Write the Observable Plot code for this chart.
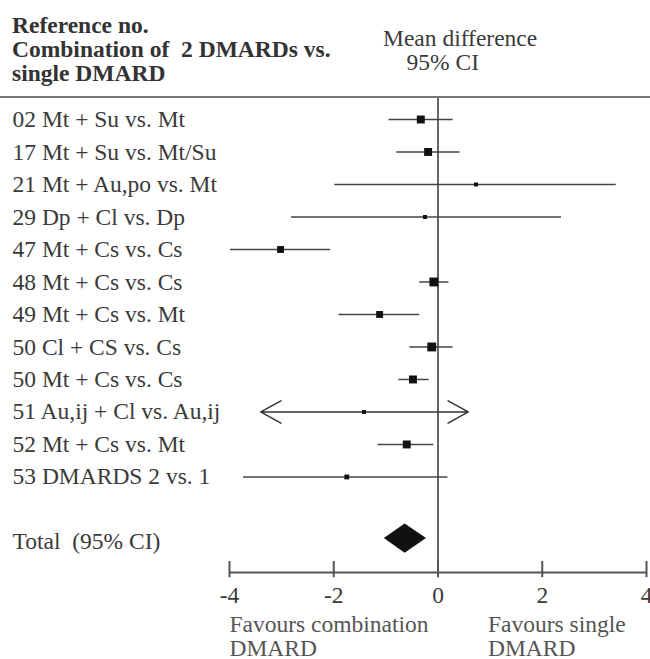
<!DOCTYPE html>
<html><head><meta charset="utf-8">
<script src="https://cdn.jsdelivr.net/npm/d3@7"></script>
<script src="https://cdn.jsdelivr.net/npm/@observablehq/plot@0.6"></script>
<style>
body{margin:0;background:#fff;font-family:"Liberation Serif","Times New Roman",serif;}
#wrap{width:650px;}
#head{position:relative;height:96px;border-bottom:2px solid #777;color:#333}
#h1{position:absolute;left:12px;top:13px;font-weight:bold;font-size:23.5px;line-height:24px;white-space:pre}
#h2{position:absolute;left:383px;top:26px;font-size:23.5px;line-height:24px;white-space:pre;color:#3a3a3a}
#chart svg{display:block}
</style></head><body>
<div id="wrap">
<div id="head"><div id="h1">Reference no.
Combination of  2 DMARDs vs.
single DMARD</div><div id="h2">Mean difference
    95% CI</div></div>
<div id="chart"></div></div>
<script>
const studies = ["02 Mt + Su vs. Mt","17 Mt + Su vs. Mt/Su","21 Mt + Au,po vs. Mt","29 Dp + Cl vs. Dp","47 Mt + Cs vs. Cs","48 Mt + Cs vs. Cs","49 Mt + Cs vs. Mt","50 Cl + CS vs. Cs","50 Mt + Cs vs. Cs","51 Au,ij + Cl vs. Au,ij","52 Mt + Cs vs. Mt","53 DMARDS 2 vs. 1"];
const estimate = [-0.33,-0.19,0.73,-0.25,-3.02,-0.08,-1.12,-0.12,-0.48,-1.42,-0.60,-1.75];
const lower    = [-0.94,-0.79,-1.98,-2.81,-3.98,-0.35,-1.90,-0.54,-0.75,-3.40,-1.15,-3.73];
const upper    = [0.29,0.42,3.42,2.37,-2.06,0.21,-0.35,0.29,-0.17,0.58,-0.08,0.19];
const weight   = [8,8,2,2,6,10,6,10,8,2,8,3];
const truncated = [false,false,false,false,false,false,false,false,false,true,false,false];
const totalLabel = "Total  (95% CI)";
const totalEstimate = -0.64, totalLower = -1.04, totalUpper = -0.23;
const xTicks = [-4,-2,0,2,4];
const favourLeft = "Favours combination\nDMARD";
const favourRight = "Favours single\nDMARD";

const rows = studies.map((s,i)=>({label:s,i,est:estimate[i],lo:lower[i],hi:upper[i],w:weight[i],arrow:truncated[i]}));
const plain = rows.filter(d=>!d.arrow), arrowed = rows.filter(d=>d.arrow);
const ti = studies.length + 1;
const totalRow = [{label: totalLabel, i: ti}];
const dc = ti - 0.12;
const diamond = [{x:totalLower,y:dc},{x:totalEstimate,y:dc-0.45},{x:totalUpper,y:dc},{x:totalEstimate,y:dc+0.45},{x:totalLower,y:dc}];
const yMax = ti + 0.94;
const FS = 23.5;

const chart = Plot.plot({
  width:650, height:561, marginLeft:229, marginRight:4, marginTop:0, marginBottom:87,
  x:{domain:[-4,4], axis:null},
  y:{domain:[-0.646, yMax], reverse:true, axis:null},
  r:{type:"sqrt", domain:[0,10], range:[0,5]},
  style:{fontFamily:"'Liberation Serif','Times New Roman',serif", fontSize:FS+"px", color:"#333", background:"white"},
  marks:[
    Plot.ruleX([0], {stroke:"#333", strokeWidth:1.5}),
    Plot.ruleY(plain, {y:"i", x1:"lo", x2:"hi", stroke:"#444", strokeWidth:1.5}),
    Plot.arrow(arrowed, {x1:"est", x2:"lo", y1:"i", y2:"i", stroke:"#333", strokeWidth:1.5, headLength:23, headAngle:58}),
    Plot.arrow(arrowed, {x1:"est", x2:"hi", y1:"i", y2:"i", stroke:"#333", strokeWidth:1.5, headLength:23, headAngle:58}),
    Plot.dot(rows, {x:"est", y:"i", r:"w", symbol:"square", fill:"#111", stroke:null}),
    Plot.line(diamond, {x:"x", y:"y", fill:"#111", stroke:"none"}),
    Plot.text(rows, {y:"i", text:"label", frameAnchor:"left", dx:-217, textAnchor:"start", fontSize:FS, fill:"#3a3a3a"}),
    Plot.text(totalRow, {y:"i", text:"label", frameAnchor:"left", dx:-217, textAnchor:"start", fontSize:FS, fill:"#3a3a3a"}),
    Plot.ruleY([yMax], {stroke:"#555", strokeWidth:2}),
    Plot.ruleX(xTicks, {y1:yMax-0.34, y2:yMax+0.16, stroke:"#555", strokeWidth:2}),
    Plot.text(xTicks, {x:d=>d, text:d=>String(d), frameAnchor:"bottom", lineAnchor:"middle", dy:23, fontSize:FS, fill:"#3a3a3a"}),
    Plot.text([favourLeft], {frameAnchor:"bottom-left", lineAnchor:"middle", dy:63.5, textAnchor:"start", lineHeight:1.06, fontSize:FS, fill:"#555"}),
    Plot.text([favourRight], {x:[0], frameAnchor:"bottom", lineAnchor:"middle", dx:50, dy:63.5, textAnchor:"start", lineHeight:1.06, fontSize:FS, fill:"#555"})
  ]
});
document.getElementById("chart").appendChild(chart);
</script>
</body></html>
